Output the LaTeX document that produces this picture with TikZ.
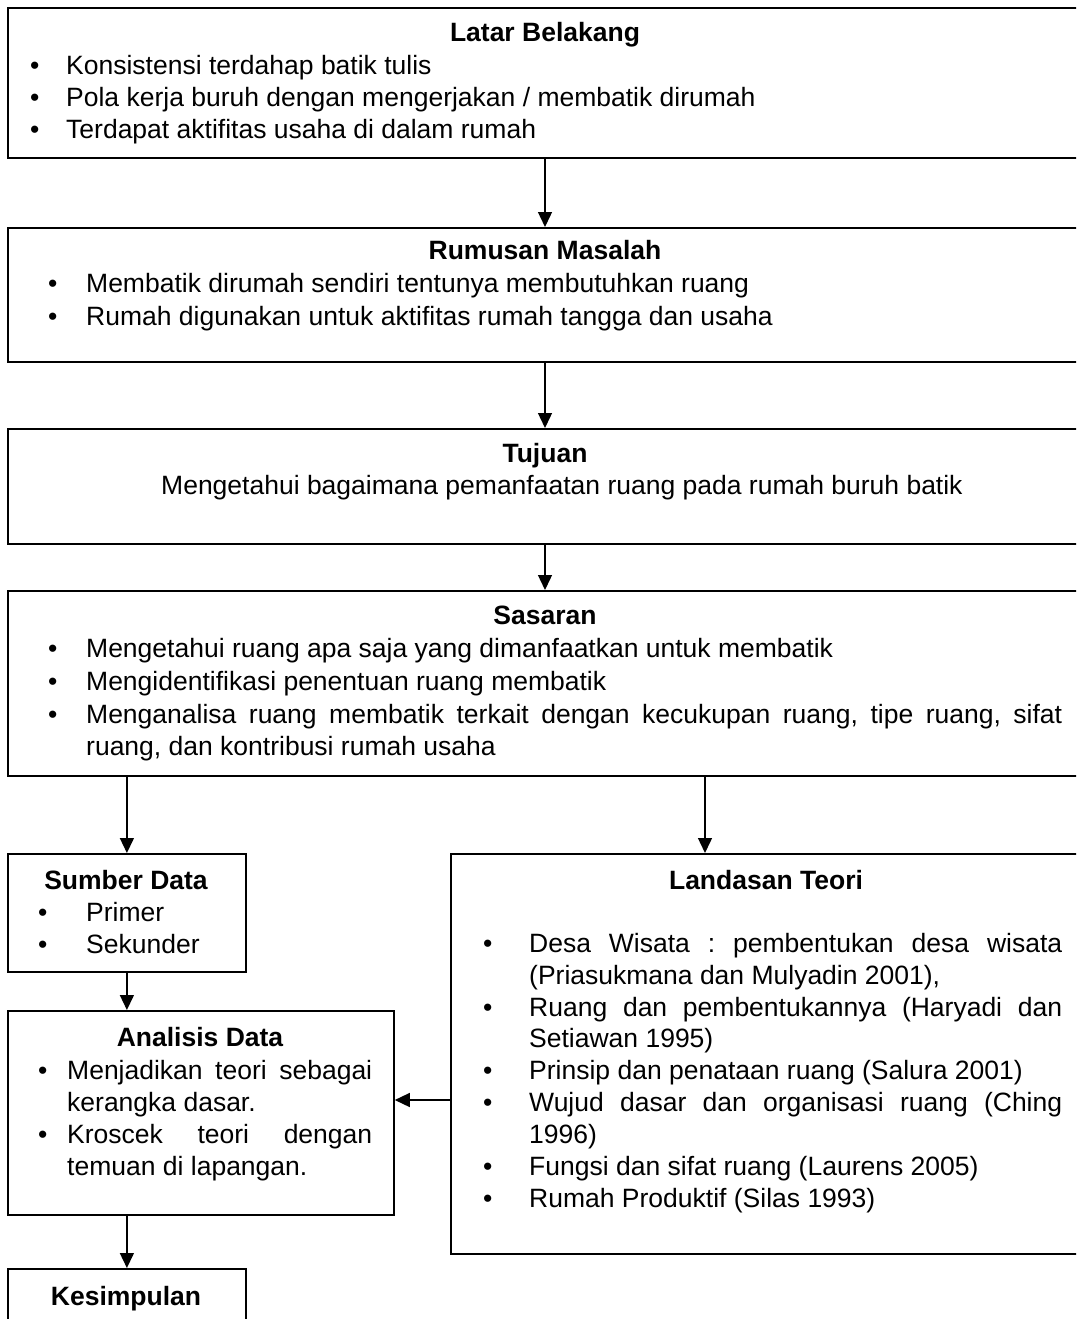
\documentclass[tikz,border=0pt]{standalone}
\usepackage{fontspec}
\setmainfont{Liberation Sans}
\usetikzlibrary{arrows.meta}
\newcommand\bulx[1]{\makebox[#1][l]{\textbullet}}
\frenchspacing
\begin{document}
\begin{tikzpicture}[x=1pt,y=-1pt,
  box/.style={draw, line width=1.8pt, rectangle, inner sep=0pt, anchor=north west},
  arr/.style={line width=1.4pt, -{Triangle[width=14pt,length=15pt]}},
  txt/.style={inner sep=0pt, anchor=base west, font=\fontsize{26.5}{32}\selectfont\frenchspacing},
  ttl/.style={inner sep=0pt, anchor=base, font=\fontsize{26.5}{32}\selectfont\bfseries}]
\useasboundingbox (0,0) rectangle (1076,1319);
\clip (0,0) rectangle (1076,1319);
% boxes
\node[box, minimum width=1083pt, minimum height=150pt] (b1) at (7,7) {};
\node[box, minimum width=1083pt, minimum height=134pt] (b2) at (7,227) {};
\node[box, minimum width=1083pt, minimum height=115pt] (b3) at (7,428) {};
\node[box, minimum width=1083pt, minimum height=185pt] (b4) at (7,590) {};
\node[box, minimum width=238pt, minimum height=118pt] (sd) at (7,853) {};
\node[box, minimum width=640pt, minimum height=400pt] (lt) at (450,853) {};
\node[box, minimum width=386pt, minimum height=204pt] (ad) at (7,1010) {};
\node[box, minimum width=238pt, minimum height=80pt] (ks) at (7,1268) {};
% Latar Belakang
\node[ttl] (t1) at (545,42) {Latar Belakang};
\node[txt] (t1a) at (30,75) {\bulx{36pt}Konsistensi terdahap batik tulis};
\node[txt] (t1b) at (30,107) {\bulx{36pt}Pola kerja buruh dengan mengerjakan / membatik dirumah};
\node[txt] (t1c) at (30,139) {\bulx{36pt}Terdapat aktifitas usaha di dalam rumah};
% Rumusan Masalah
\node[ttl] (t2) at (545,259) {Rumusan Masalah};
\node[txt] (t2a) at (48,292) {\bulx{38pt}Membatik dirumah sendiri tentunya membutuhkan ruang};
\node[txt] (t2b) at (48,325) {\bulx{38pt}Rumah digunakan untuk aktifitas rumah tangga dan usaha};
% Tujuan
\node[ttl] (t3) at (545,462) {Tujuan};
\node[txt] (t3a) at (161,494) {Mengetahui bagaimana pemanfaatan ruang pada rumah buruh batik};
% Sasaran
\node[ttl] (t4) at (545,624) {Sasaran};
\node[txt] (t4a) at (48,657) {\bulx{38pt}Mengetahui ruang apa saja yang dimanfaatkan untuk membatik};
\node[txt] (t4b) at (48,690) {\bulx{38pt}Mengidentifikasi penentuan ruang membatik};
\node[txt] (t4c) at (48,723) {\bulx{38pt}\makebox[976pt][s]{Menganalisa ruang membatik terkait dengan kecukupan ruang, tipe ruang, sifat}};
\node[txt] (t4d) at (86,755) {ruang, dan kontribusi rumah usaha};
% Sumber Data
\node[ttl] (t5) at (126,889) {Sumber Data};
\node[txt] (t5a) at (38,921) {\bulx{48pt}Primer};
\node[txt] (t5b) at (38,953) {\bulx{48pt}Sekunder};
% Landasan Teori
\node[ttl] (t6) at (766,889) {Landasan Teori};
\node[txt] (t6a) at (483,952) {\bulx{46pt}\makebox[533pt][s]{Desa Wisata : pembentukan desa wisata}};
\node[txt] (t6b) at (529,984) {(Priasukmana dan Mulyadin 2001),};
\node[txt] (t6c) at (483,1016) {\bulx{46pt}\makebox[533pt][s]{Ruang dan pembentukannya (Haryadi dan}};
\node[txt] (t6d) at (529,1047) {Setiawan 1995)};
\node[txt] (t6e) at (483,1079) {\bulx{46pt}Prinsip dan penataan ruang (Salura 2001)};
\node[txt] (t6f) at (483,1111) {\bulx{46pt}\makebox[533pt][s]{Wujud dasar dan organisasi ruang (Ching}};
\node[txt] (t6g) at (529,1143) {1996)};
\node[txt] (t6h) at (483,1175) {\bulx{46pt}Fungsi dan sifat ruang (Laurens 2005)};
\node[txt] (t6i) at (483,1207) {\bulx{46pt}Rumah Produktif (Silas 1993)};
% Analisis Data
\node[ttl] (t7) at (200,1046) {Analisis Data};
\node[txt] (t7a) at (38,1079) {\bulx{29pt}\makebox[305pt][s]{Menjadikan teori sebagai}};
\node[txt] (t7b) at (67,1111) {kerangka dasar.};
\node[txt] (t7c) at (38,1143) {\bulx{29pt}\makebox[305pt][s]{Kroscek teori dengan}};
\node[txt] (t7d) at (67,1175) {temuan di lapangan.};
% Kesimpulan
\node[ttl] (t8) at (126,1305) {Kesimpulan};
% connectors
\coordinate (ax) at (545,0);
\coordinate (lx) at (705,0);
\coordinate (ay) at (0,1100);
\draw[arr] (b1.south -| ax) -- (b2.north -| ax);
\draw[arr] (b2.south -| ax) -- (b3.north -| ax);
\draw[arr] (b3.south -| ax) -- (b4.north -| ax);
\draw[arr] (b4.south -| sd.north) -- (sd.north);
\draw[arr] (b4.south -| lx) -- (lt.north -| lx);
\draw[arr] (sd.south) -- (ad.north -| sd.south);
\draw[arr] (lt.west |- ay) -- (ad.east |- ay);
\draw[arr] (ad.south -| ks.north) -- (ks.north);
\end{tikzpicture}
\end{document}
